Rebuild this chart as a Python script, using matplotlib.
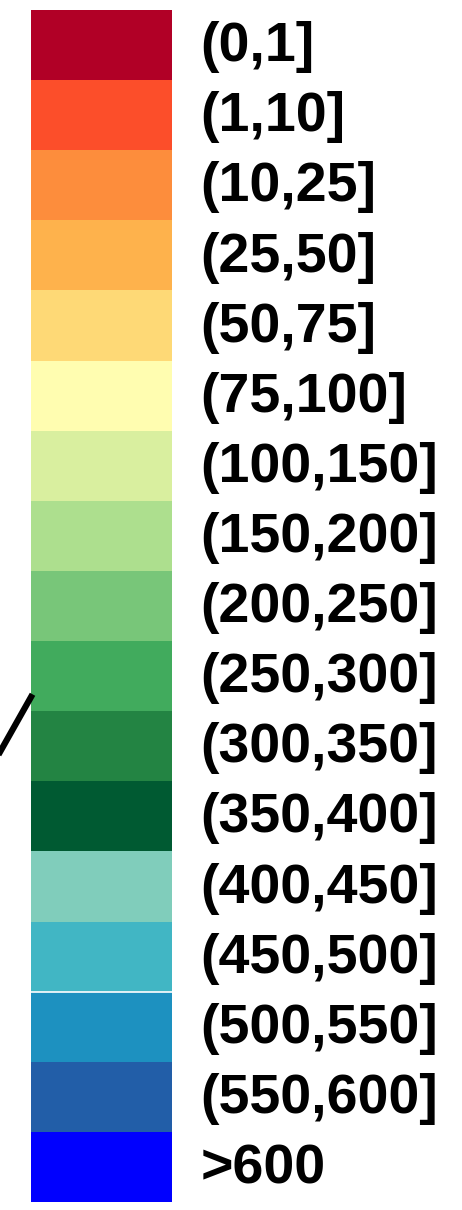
import matplotlib.pyplot as plt
from matplotlib.lines import Line2D
from matplotlib.transforms import blended_transform_factory

labels = ['(0,1]', '(1,10]', '(10,25]', '(25,50]', '(50,75]', '(75,100]',
          '(100,150]', '(150,200]', '(200,250]', '(250,300]', '(300,350]',
          '(350,400]', '(400,450]', '(450,500]', '(500,550]', '(550,600]', '>600']
colors = ['#B10026', '#FC4E2A', '#FD8D3C', '#FEB24C', '#FED976', '#FFFDB0',
          '#D9EF9F', '#ADDF8E', '#78C679', '#41AB5D', '#238443',
          '#005A32', '#80CDBB', '#41B6C4', '#1D91C0', '#225EA8', '#0000FF']

W, H = 462, 1210
fig = plt.figure(figsize=(W / 100, H / 100), dpi=100)
ax = fig.add_axes([31 / W, 8 / H, 141 / W, 1192 / H])

pos = list(range(len(labels)))
ax.barh(pos, [1] * len(labels), height=1.0, color=colors, edgecolor='none')
# thin white seam between the two blue groups
ax.axhline(13.5, color='white', linewidth=1.2)
ax.set_xlim(0, 1)
ax.set_ylim(len(labels) - 0.5, -0.5)
ax.axis('off')

tr = blended_transform_factory(ax.transAxes, ax.transData)
for p, lab in zip(pos, labels):
    ax.text(1.2, p + 0.03, lab, transform=tr, ha='left', va='center',
            fontsize=40, fontweight='bold', family='Liberation Sans')

# piece of a leader line coming in from the left
fig.add_artist(Line2D([0 / W, 31 / W], [1 - 752 / H, 1 - 697 / H],
                      color='black', linewidth=4.5, transform=fig.transFigure))

plt.savefig('out.png', dpi=100)
